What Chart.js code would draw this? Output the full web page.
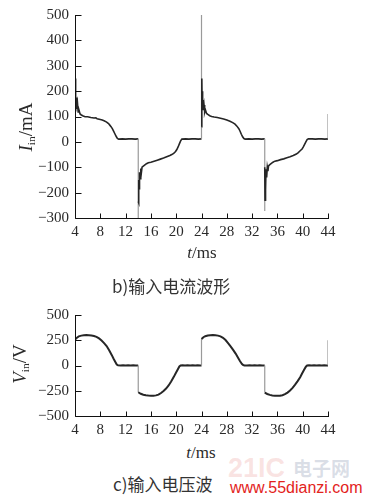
<!DOCTYPE html>
<html>
<head>
<meta charset="utf-8">
<script src="https://cdn.jsdelivr.net/npm/chart.js@4"></script>
<style>
  html,body{margin:0;padding:0;background:#fff;}
  #wrap{position:relative;width:366px;height:500px;overflow:hidden;background:#fff;}
  canvas{position:absolute;left:0;}
  .t{position:absolute;white-space:nowrap;color:#2a2a2a;transform:translate(-50%,-50%);line-height:1;}
  .serif{font-family:"Liberation Serif","DejaVu Serif",serif;}
  .rot{transform:translate(-50%,-50%) rotate(-90deg);}
  .cap{position:absolute;white-space:nowrap;color:#333;font-family:"Noto Sans CJK SC",sans-serif;font-size:17px;line-height:1;transform:translateY(-50%);}
  sub{font-size:60%;vertical-align:-0.25em;}
</style>
</head>
<body>
<div id="wrap">
  <canvas id="c1" width="366" height="245" style="top:0"></canvas>
  <canvas id="c2" width="366" height="140" style="top:300px"></canvas>

  <div class="t serif rot" style="left:27px;top:127px;font-size:19px;"><i>I</i><sub>in</sub>/mA</div>
  <div class="t serif" style="left:202px;top:252px;font-size:17px;"><i>t</i>/ms</div>
  <div class="cap" style="left:112px;top:285px;">b)输入电流波形</div>

  <div class="t serif rot" style="left:21px;top:364px;font-size:19px;"><i>V</i><sub>in</sub>/V</div>
  <div class="t serif" style="left:201px;top:452px;font-size:17px;"><i>t</i>/ms</div>

  <div style="position:absolute;left:228px;top:455px;font-family:'Liberation Sans',sans-serif;font-weight:bold;font-size:27px;color:rgba(232,130,125,0.22);line-height:1;">21IC</div>
  <div style="position:absolute;left:293px;top:458px;font-family:'Noto Sans CJK SC',sans-serif;font-weight:bold;font-size:19px;color:rgba(150,160,185,0.35);line-height:1;">电子网</div>
  <div class="cap" style="left:113px;top:483px;">c)输入电压波</div>
  <div style="position:absolute;left:230px;top:488px;transform:translateY(-50%);font-family:'Liberation Sans',sans-serif;font-size:16px;color:#e3231c;line-height:1;white-space:nowrap;">www.55dianzi.com</div>
</div>

<script>
// ---- tick labels ----
const timeTicks = [4, 8, 12, 16, 20, 24, 28, 32, 36, 40, 44];
const currentTicks = [-300, -200, -100, 0, 100, 200, 300, 400, 500];
const voltageTicks = [-500, -250, 0, 250, 500];

// ---- input current waveform (t in ms, I in mA) ----
const currentT = [
  4, 4, 4.05, 4.1, 4.15, 4.2, 4.3, 4.4, 4.5, 4.6,
  4.8, 5.0, 5.3, 5.6, 6.0, 6.5, 7.0, 7.3, 7.5, 8.0,
  8.3, 8.6, 9.0, 9.3, 9.5, 9.7, 9.9, 10.1, 10.3, 10.5,
  10.7, 10.9,
  11.5, 12, 12.5, 13, 13.5, 14,
  14, 14, 14.05, 14.1, 14.15, 14.2, 14.3, 14.4, 14.5, 14.6, 14.8,
  15.0, 15.3, 15.6, 16, 16.5, 17, 17.5, 18, 18.5, 19, 19.3, 19.6, 19.9, 20.1, 20.3, 20.5, 20.7, 20.9,
  21.5, 22, 22.5, 23, 23.5, 24,
  24, 24, 24.05, 24.1, 24.15, 24.2, 24.25, 24.3, 24.4, 24.5, 24.6, 24.8,
  25.0, 25.3, 25.6, 26, 26.5, 27, 27.5, 28, 28.5, 29, 29.3, 29.6, 29.9, 30.1, 30.3, 30.5, 30.7, 30.9,
  31.5, 32, 32.5, 33, 33.5, 34,
  34, 34, 34.05, 34.1, 34.15, 34.2, 34.3, 34.4, 34.5, 34.6, 34.8,
  35, 35.3, 35.6, 36, 36.5, 37, 37.5, 38, 38.5, 39, 39.3, 39.6, 39.9, 40.1, 40.3, 40.5, 40.7, 40.9,
  41.5, 42, 42.5, 43, 43.5, 44, 44
];
const currentI = [
  60, 250, 150, 210, 120, 175, 130, 150, 118, 128,
  110, 106, 102, 99, 99, 96, 94, 95, 91, 88,
  86, 83, 78, 72, 66, 60, 52, 42, 32, 22,
  14, 11,
  12, 11, 12, 12, 11, 12,
  -320, -235, -240, -150, -185, -120, -145, -105, -120, -100, -96,
  -92, -86, -82, -80, -76, -72, -68, -64, -59, -54, -50, -45, -38, -30, -20, -8, 4, 11,
  12, 11, 12, 12, 11, 12,
  500, 60, 250, 150, 200, 130, 165, 125, 145, 118, 128, 112,
  108, 103, 100, 98, 96, 93, 90, 86, 81, 75, 70, 62, 52, 42, 30, 20, 13, 11,
  12, 11, 12, 12, 11, 12,
  -272, -100, -230, -140, -190, -108, -140, -100, -115, -95, -90,
  -86, -80, -76, -74, -70, -67, -63, -59, -54, -48, -42, -35, -28, -20, -10, 0, 9, 12,
  12, 11, 12, 12, 11, 12, 110
];

// ---- input voltage waveform (t in ms, V in V) ----
const voltageT = [
  4, 4.3, 4.6, 5, 5.4, 5.8, 6.2, 6.6, 7, 7.4, 7.8, 8.2, 8.6, 9, 9.4, 9.8, 10.1, 10.4, 10.6, 10.8,
  11.2, 11.6, 12, 12.4, 12.8, 13.2, 13.6, 14,
  14, 14.4, 14.8, 15.2, 15.6, 16, 16.4, 16.8, 17.2, 17.6, 18, 18.4, 18.8, 19.2, 19.6, 19.9, 20.2, 20.5, 20.7,
  21, 21.4, 21.8, 22.2, 22.6, 23, 23.4, 23.8, 24,
  24, 24.3, 24.6, 25, 25.4, 25.8, 26.2, 26.6, 27, 27.4, 27.8, 28.2, 28.6, 29, 29.4, 29.8, 30.1, 30.4, 30.6, 30.8,
  31.2, 31.6, 32, 32.4, 32.8, 33.2, 33.6, 34,
  34, 34.4, 34.8, 35.2, 35.6, 36, 36.4, 36.8, 37.2, 37.6, 38, 38.4, 38.8, 39.2, 39.6, 39.9, 40.2, 40.5, 40.7,
  41, 41.4, 41.8, 42.2, 42.6, 43, 43.4, 43.8, 44, 44
];
const voltageV = [
  257, 275, 288, 296, 300, 301, 300, 297, 292, 283, 268, 248, 222, 192, 150, 105, 67, 33, 10, 2,
  0, 3, -1, 2, 0, 3, -1, 1,
  -265, -280, -290, -295, -298, -300, -300, -296, -288, -272, -252, -228, -198, -158, -115, -80, -45, -10, 0,
  2, -1, 3, 0, 2, -1, 3, 0, 1,
  262, 280, 290, 297, 300, 301, 300, 296, 288, 274, 252, 222, 190, 155, 118, 75, 42, 15, 4, 1,
  0, 3, -1, 2, 0, 3, -1, 1,
  -268, -282, -291, -296, -299, -300, -299, -294, -284, -268, -248, -222, -190, -155, -117, -80, -45, -12, 0,
  2, -1, 3, 0, 2, -1, 3, 0, 1, 250
];

const toPts = (xs, ys) => xs.map((x, i) => ({x: x, y: ys[i]}));
const fmt = v => String(v).replace('-', '\u2212');

const innerAxes = {
  id: 'innerAxes',
  afterDatasetsDraw(chart) {
    const {ctx, chartArea: a, scales} = chart;
    ctx.save();
    ctx.strokeStyle = '#111';
    ctx.lineWidth = 1;
    ctx.beginPath();
    const L = Math.round(a.left) + 0.5, B = Math.round(a.bottom) + 0.5;
    ctx.moveTo(L, Math.round(a.top));
    ctx.lineTo(L, B);
    ctx.lineTo(Math.round(a.right) + 1, B);
    scales.x.ticks.forEach(t => {
      const px = Math.round(scales.x.getPixelForValue(t.value)) + 0.5;
      ctx.moveTo(px, B); ctx.lineTo(px, B - 5);
    });
    scales.y.ticks.forEach(t => {
      const py = Math.round(scales.y.getPixelForValue(t.value)) + 0.5;
      ctx.moveTo(L, py); ctx.lineTo(L + 6, py);
    });
    ctx.stroke();
    ctx.restore();
  }
};

function makeChart(id, xs, ys, yTicks, yMin, yMax, canvasH, bottom, lineW) {
  return new Chart(document.getElementById(id), {
    type: 'line',
    data: {
      datasets: [{
        data: toPts(xs, ys),
        borderColor: '#262626',
        borderWidth: lineW,
        pointRadius: 0,
        tension: 0,
        fill: false,
        segment: {
          borderColor: c => c.p0.parsed.x === c.p1.parsed.x ? '#9a9a9a' : undefined,
          borderWidth: c => c.p0.parsed.x === c.p1.parsed.x ? 1.2 : undefined
        }
      }]
    },
    options: {
      responsive: false,
      animation: false,
      events: [],
      layout: {padding: {left: 0, top: 15, right: 38, bottom: 0}},
      plugins: {legend: {display: false}, tooltip: {enabled: false}},
      scales: {
        x: {
          type: 'linear', min: 4, max: 44,
          grid: {display: false, drawTicks: false},
          border: {display: false},
          afterBuildTicks: s => { s.ticks = timeTicks.map(v => ({value: v})); },
          afterFit: s => { s.height = canvasH - bottom; },
          ticks: {
            padding: 5, maxRotation: 0, autoSkip: false,
            color: '#2a2a2a',
            font: {family: '"Liberation Serif", serif', size: 15},
            callback: v => fmt(v)
          }
        },
        y: {
          type: 'linear', min: yMin, max: yMax,
          grid: {display: false, drawTicks: false},
          border: {display: false},
          afterBuildTicks: s => { s.ticks = yTicks.map(v => ({value: v})); },
          afterFit: s => { s.width = 75; },
          ticks: {
            padding: 6, autoSkip: false,
            color: '#2a2a2a',
            font: {family: '"Liberation Serif", serif', size: 15},
            callback: v => fmt(v)
          }
        }
      }
    },
    plugins: [innerAxes]
  });
}

makeChart('c1', currentT, currentI, currentTicks, -300, 500, 245, 218, 1.6);
makeChart('c2', voltageT, voltageV, voltageTicks, -500, 500, 140, 116, 2);
</script>
</body>
</html>
